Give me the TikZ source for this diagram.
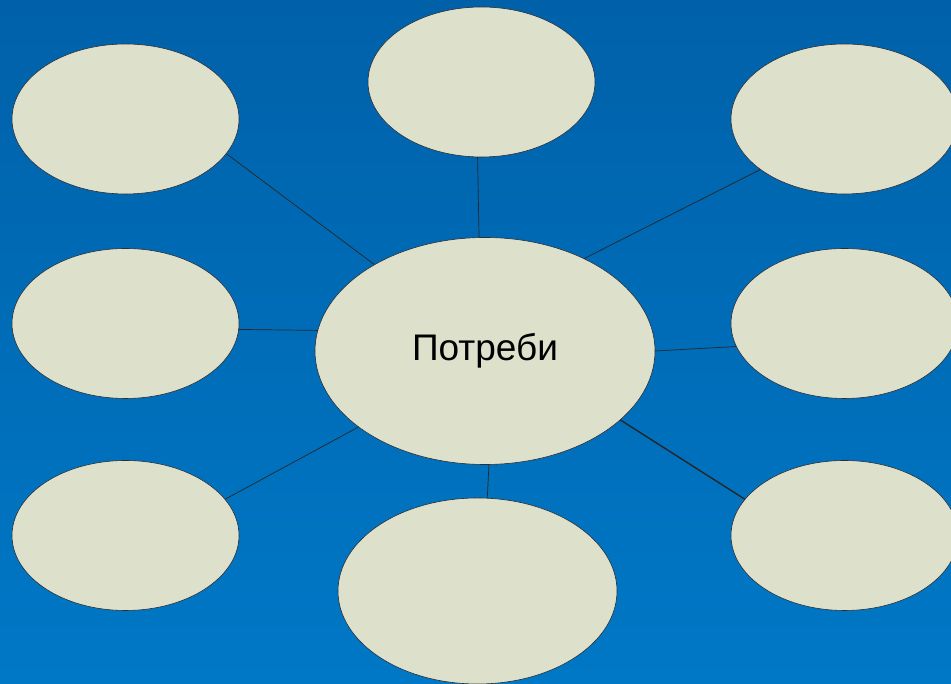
\documentclass[tikz,border=0pt]{standalone}
\usepackage{fontspec}
\setmainfont{Liberation Sans}
\usetikzlibrary{shapes.geometric}
\definecolor{bgtop}{RGB}{0,97,169}
\definecolor{bgbot}{RGB}{0,120,198}
\definecolor{oval}{RGB}{221,224,203}
\definecolor{rim}{RGB}{40,45,55}
\tikzset{
  oval/.style={ellipse, fill=oval, draw=rim, line width=0.6pt, inner sep=0pt},
  small/.style={oval, minimum width=227pt, minimum height=150pt},
  link/.style={draw=black!85, line width=0.7pt}
}
\begin{document}
\begin{tikzpicture}[x=1pt,y=1pt]
\useasboundingbox (0,0) rectangle (951,684);
\clip (0,0) rectangle (951,684);
\shade[top color=bgtop, bottom color=bgbot] (0,0) rectangle (951,684);
% nodes
\node[oval, minimum width=340pt, minimum height=227pt, font=\fontsize{37}{40}\selectfont] (c) at (485,333) {Потреби};
\node[small] (t)  at (481.5,602) {};
\node[small] (tl) at (125.5,565) {};
\node[small] (tr) at (844.5,565) {};
\node[small] (ml) at (125.5,360.5) {};
\node[small] (mr) at (844.5,360.5) {};
\node[small] (bl) at (125.5,148.5) {};
\node[small] (br) at (844.5,148.5) {};
\node[oval, minimum width=279pt, minimum height=186pt] (b) at (477.5,93) {};
% connectors
\path[link] (c.93.5) -- (t.267);
\path[link] (c.142.6) -- (tl.341.6);
\path[link] (c.43.3) -- (tr.211.1);
\path[link] (c.173.9) -- (ml.-3.8);
\path[link] (c.0) -- (mr.192.4);
\path[link] (c.211.6) -- (bl.20.6);
\path[link, line width=1.4pt] (c.-27) -- (br.160.7);
\path[link] (c.272) -- (b.84);
\end{tikzpicture}
\end{document}
